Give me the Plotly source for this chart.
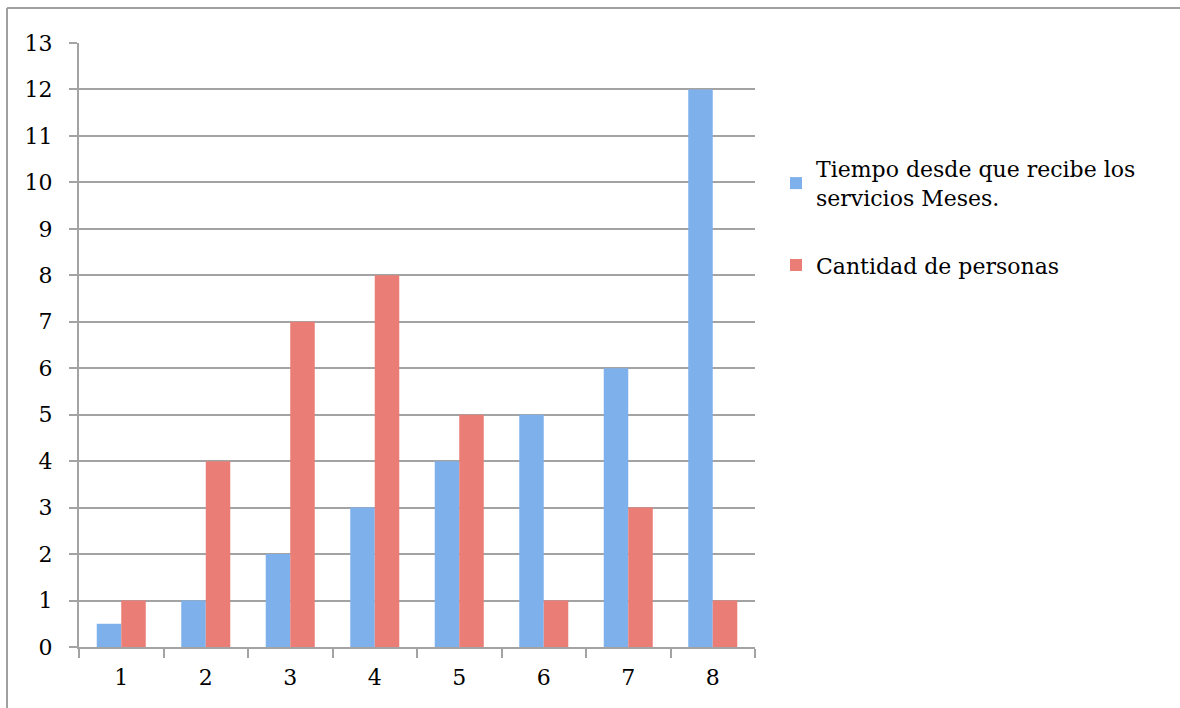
import plotly.graph_objects as go

categories = ["1", "2", "3", "4", "5", "6", "7", "8"]
tiempo_meses = [0.5, 1, 2, 3, 4, 5, 6, 12]
cantidad_personas = [1, 4, 7, 8, 5, 1, 3, 1]
y_ticks = list(range(0, 14))

series_names = ["Tiempo desde que recibe los<br>servicios Meses.", "Cantidad de personas"]

FONT = "DejaVu Serif"
GRID = "#a3a3a3"

fig = go.Figure()
fig.add_trace(go.Bar(
    x=categories, y=tiempo_meses, name=series_names[0], legendgroup="a",
    marker=dict(color="#7eb1ec", line=dict(width=0)),
))
fig.add_trace(go.Bar(
    x=categories, y=cantidad_personas, name=series_names[1], legendgroup="b",
    marker=dict(color="#ea7d75", line=dict(width=0)),
))

L, R, T, B = 79, 425, 43, 61
W, H = 1180, 708
pw = W - L - R
ph = H - T - B

# outer frame: only the left and top edges are visible in the picture
fx0 = (7 - L) / pw
fx1 = (W + 20 - L) / pw
fy_top = 1 + (T - 8) / ph
fy_bot = -(H + 20 - T - ph) / ph
frame_line = dict(color="#a0a0a0", width=2)

fig.update_layout(
    width=W, height=H,
    margin=dict(l=L, r=R, t=T, b=B, autoexpand=False),
    paper_bgcolor="white", plot_bgcolor="white",
    barmode="group", bargap=0.42, bargroupgap=0,
    font=dict(family=FONT, size=22, color="#000000"),
    showlegend=True,
    legend=dict(
        x=(776 - L) / pw, y=1 - (148 - T) / ph, xanchor="left", yanchor="top",
        font=dict(family=FONT, size=22, color="#000000"),
        tracegroupgap=36, bgcolor="rgba(0,0,0,0)", traceorder="grouped",
    ),
    xaxis=dict(
        type="category", showgrid=False, showline=True, linecolor=GRID, linewidth=2,
        ticks="outside", tickson="boundaries", ticklen=9, tickcolor=GRID, tickwidth=2,
        tickfont=dict(family=FONT, size=22), zeroline=False, ticklabelstandoff=10,
    ),
    yaxis=dict(
        range=[0, 13], tickvals=y_ticks, showgrid=True, gridcolor=GRID, gridwidth=2,
        showline=True, linecolor=GRID, linewidth=2,
        ticks="outside", ticklen=8, tickcolor=GRID, tickwidth=2,
        tickfont=dict(family=FONT, size=22), zeroline=False, ticklabelstandoff=12,
    ),
    shapes=[
        dict(type="line", xref="paper", yref="paper", x0=fx0, x1=fx0, y0=fy_bot, y1=fy_top,
             line=frame_line, layer="below"),
        dict(type="line", xref="paper", yref="paper", x0=fx0, x1=fx1, y0=fy_top, y1=fy_top,
             line=frame_line, layer="below"),
    ],
)

fig.write_html(
    "out.html",
    config={"displayModeBar": False},
    post_script="document.body.style.margin='0px';document.body.style.overflow='hidden';",
)
